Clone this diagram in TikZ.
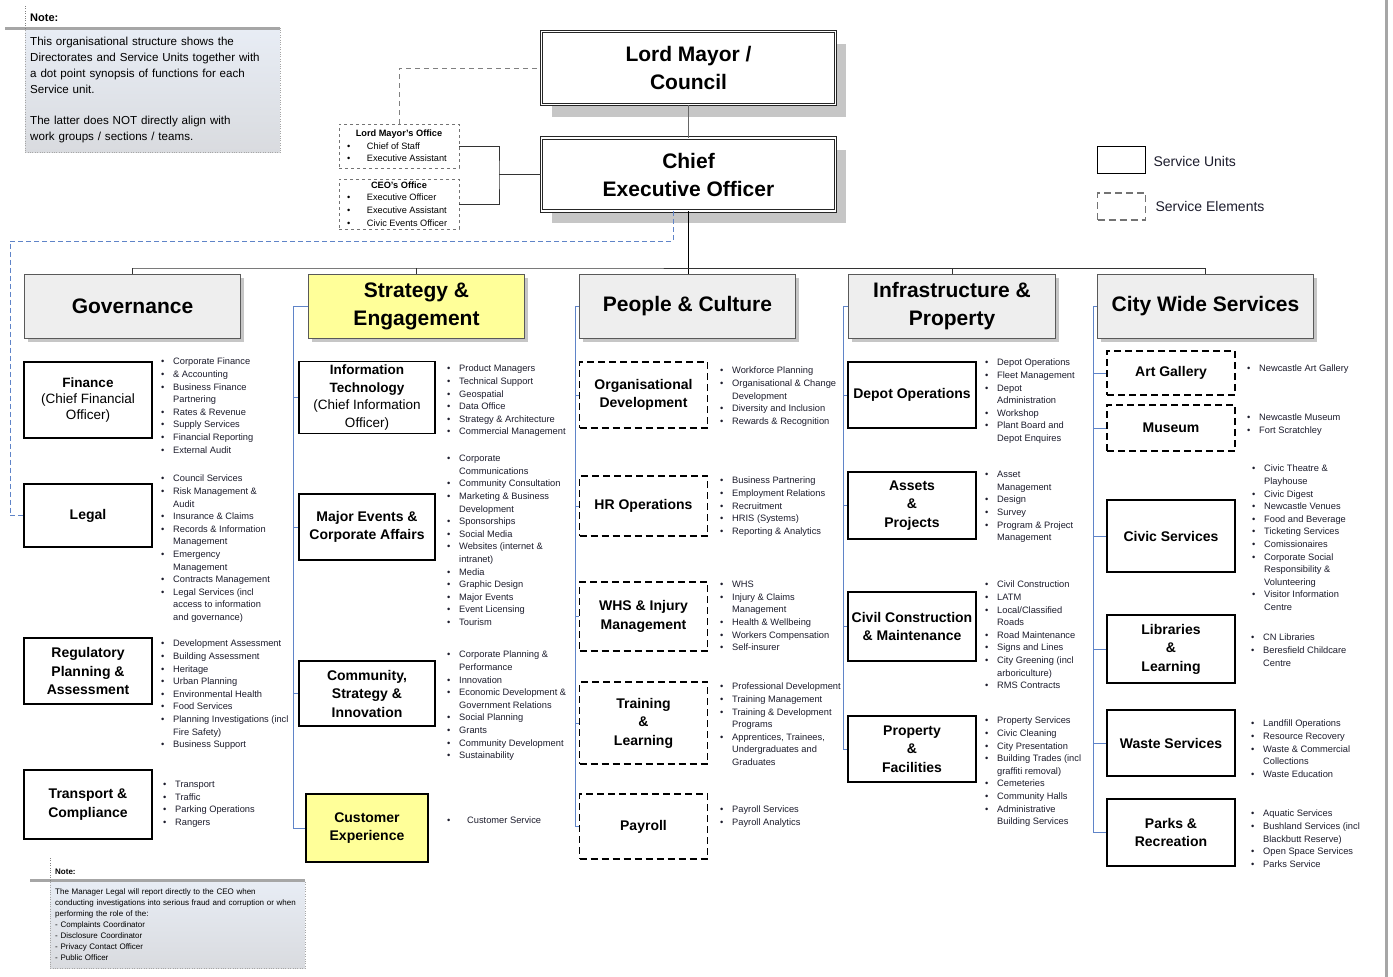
\documentclass[tikz,border=0pt]{standalone}
\usepackage{fontspec}
\setmainfont{Liberation Sans}
\usetikzlibrary{positioning,shadows}
\definecolor{linkblue}{HTML}{5F84C8}
\definecolor{headgray}{HTML}{EEEEEE}
\definecolor{shadowgray}{HTML}{C6C6C6}
\definecolor{hiyellow}{HTML}{FFFF99}
\definecolor{listink}{HTML}{1C1C2C}
\definecolor{notetop}{HTML}{E8EDF5}
\definecolor{notebot}{HTML}{D9DBDF}
\definecolor{bargray}{HTML}{A6A6A6}
\newcommand{\itm}{\makebox[12pt][l]{\textbullet}}
\newcommand{\itc}{\hspace*{12pt}}
\newcommand{\offitem}[1]{\makebox[112pt][l]{\hspace{4pt}\makebox[20pt][l]{\textbullet}#1}}
\tikzset{
  topbox/.style={draw=black!85,line width=0.8pt,double,double distance=1.6pt,fill=white,
    minimum width=294pt,minimum height=73pt,align=center,
    font=\fontsize{21}{28}\selectfont\bfseries,
    drop shadow={shadow xshift=10pt,shadow yshift=-12pt,fill=shadowgray,opacity=1}},
  headbox/.style={draw=black!65,line width=1.6pt,fill=headgray,minimum width=216pt,
    minimum height=64pt,align=center,font=\fontsize{21}{28}\selectfont\bfseries,
    drop shadow={shadow xshift=3pt,shadow yshift=-3pt,fill=shadowgray,opacity=1}},
  unitbox/.style={draw=black,line width=1.3pt,fill=white,minimum width=128pt,
    align=center,font=\fontsize{14}{18.5}\selectfont\bfseries},
  elembox/.style={unitbox,dashed,dash pattern=on 7pt off 4pt},
  officebox/.style={draw=black!55,dashed,line width=0.9pt,minimum width=120pt,align=center,
    inner sep=2pt,font=\fontsize{9.2}{12.6}\selectfont},
  itemlist/.style={anchor=north west,inner sep=0pt,align=left,text=listink,yshift=-3.5pt,
    font=\fontsize{9.3}{12.6}\selectfont},
  orgline/.style={draw=black!80,line width=1pt},
  link/.style={draw=linkblue,line width=0.8pt},
  notebox/.style={draw=black!35,dotted,top color=notetop,bottom color=notebot,
    anchor=north west,align=left}
}
\begin{document}
\begin{tikzpicture}[x=1pt,y=-1pt]
\useasboundingbox (0,0) rectangle (1393,977);

% notes and legend
\node[notebox,minimum width=255pt,minimum height=124pt,text width=245pt,inner xsep=5pt,
  inner ysep=9pt,font=\fontsize{11.6}{16}\selectfont] (topnote) at (25,28)
  {This organisational structure shows the\\Directorates and Service Units together with\\
   a dot point synopsis of functions for each\\Service unit.\\[15pt]
   The latter does NOT directly align with\\work groups / sections / teams.};
\node[anchor=west,inner sep=0pt,font=\fontsize{11}{13}\selectfont\bfseries] (topnotehead) at (30,18) {Note:};
\coordinate (topnotebar) at (5,28);
\draw[bargray,line width=3pt] (topnotebar) -- (topnote.north east);
\draw[black!50,dotted] (topnote.north west) -- ++(0,-23);

\node[notebox,minimum width=255pt,minimum height=87pt,text width=245pt,inner xsep=5pt,
  inner ysep=8pt,font=\fontsize{8}{11}\selectfont] (legalnote) at (50,880)
  {The Manager Legal will report directly to the CEO when\\
   conducting investigations into serious fraud and corruption or when\\
   performing the role of the:\\- Complaints Coordinator\\- Disclosure Coordinator\\
   - Privacy Contact Officer\\- Public Officer};
\node[anchor=west,inner sep=0pt,font=\fontsize{8}{10}\selectfont\bfseries] (legalnotehead) at (55,872) {Note:};
\coordinate (legalnotebar) at (30,880);
\draw[bargray,line width=3pt] (legalnotebar) -- (legalnote.north east);
\draw[black!50,dotted] (legalnote.north west) -- ++(0,-22);

\node[draw=black,line width=1.4pt,minimum width=48pt,minimum height=27pt] (keyunit) at (1121.5,160) {};
\node[anchor=west,font=\fontsize{14}{16}\selectfont,text=listink] (keyunittxt) at (1150,161) {Service Units};
\node[draw=black!55,dashed,dash pattern=on 7pt off 4pt,line width=1.2pt,minimum width=48pt,minimum height=27pt] (keyelem) at (1121.5,206.5) {};
\node[anchor=west,font=\fontsize{14}{16}\selectfont,text=listink] (keyelemtxt) at (1152,206) {Service Elements};
\coordinate (edgetop) at (1386,0); \coordinate (edgebot) at (1386,977);
\draw[bargray,line width=3pt] (edgetop) -- (edgebot);

% council, CEO and offices
\node[topbox] (mayor) at (688.5,68) {Lord Mayor /\\Council};
\node[topbox] (ceo) at (688.5,174.5) {Chief\\Executive Officer};
\draw[draw=black!60,line width=1pt] (mayor) -- (ceo);

\node[officebox,minimum height=44pt] (mayoroff) at (399,146)
  {\textbf{Lord Mayor's Office}\\\offitem{Chief of Staff}\\\offitem{Executive Assistant}};
\node[officebox,minimum height=50pt] (ceooff) at (399,204)
  {\textbf{CEO's Office}\\\offitem{Executive Officer}\\\offitem{Executive Assistant}\\\offitem{Civic Events Officer}};
\coordinate (offbus) at (499,174.5);
\draw[orgline] (mayoroff.east) -| (offbus) |- (ceooff.east);
\draw[orgline] (offbus) -- (ceo.west);
\draw[draw=black!50,dashed,dash pattern=on 5pt off 4pt,line width=1pt] (mayoroff.north) |- (mayor.west);

% directorates
\node[headbox] (gov) at (132.5,306.5) {Governance};
\node[headbox,fill=hiyellow] (strat) at (416.5,306.5) {Strategy \&\\Engagement};
\node[headbox] (people) at (687.5,306.5) {People \& Culture};
\node[headbox,minimum width=207pt] (infra) at (952,306.5) {Infrastructure \&\\Property};
\node[headbox] (citywide) at (1205.5,306.5) {City Wide Services};
\coordinate (busleft) at (133,268);
\draw[draw=black,line width=1.4pt] (ceo.south) -- (ceo.south |- people.north);
\draw[orgline] (gov.north) |- (busleft) -| (citywide.north);
\draw[orgline] (strat.north) -- (strat.north |- busleft);
\draw[orgline] (infra.north) -- (infra.north |- busleft);

% governance units
\node[unitbox,minimum height=76pt,font=\fontsize{13.5}{16}\selectfont\bfseries] (finance) at (88,400)
  {Finance\\\textmd{(Chief Financial}\\\textmd{Officer)}};
\node[unitbox,minimum height=63pt] (legal) at (88,515.5) {Legal};
\node[unitbox,minimum height=66pt] (regplan) at (88,671) {Regulatory\\Planning \&\\Assessment};
\node[unitbox,minimum height=69pt] (transport) at (88,804.5) {Transport \&\\Compliance};
\coordinate (crossfeed) at (10,241);
\draw[link,dashed,dash pattern=on 5pt off 3pt] ([xshift=-15pt]ceo.south) |- (crossfeed) |- (legal.west);

\node[itemlist] (finlist) at (161,354.5) {\itm Corporate Finance\\\itm \& Accounting\\\itm Business Finance\\\itc Partnering\\
  \itm Rates \& Revenue\\\itm Supply Services\\\itm Financial Reporting\\\itm External Audit};
\node[itemlist] (legallist) at (161,471.5) {\itm Council Services\\\itm Risk Management \&\\\itc Audit\\\itm Insurance \& Claims\\
  \itm Records \& Information\\\itc Management\\\itm Emergency\\\itc Management\\\itm Contracts Management\\
  \itm Legal Services (incl\\\itc access to information\\\itc and governance)};
\node[itemlist] (reglist) at (161,636.5) {\itm Development Assessment\\\itm Building Assessment\\\itm Heritage\\\itm Urban Planning\\
  \itm Environmental Health\\\itm Food Services\\\itm Planning Investigations (incl\\\itc Fire Safety)\\\itm Business Support};
\node[itemlist] (translist) at (163,777.5) {\itm Transport\\\itm Traffic\\\itm Parking Operations\\\itm Rangers};

% strategy units
\node[unitbox,minimum width=136pt,minimum height=71pt,font=\fontsize{13.5}{17.7}\selectfont\bfseries] (infotech) at (367,397.5)
  {Information\\Technology\\\textmd{(Chief Information}\\\textmd{Officer)}};
\node[unitbox,minimum width=136pt,minimum height=66pt] (events) at (367,527) {Major Events \&\\Corporate Affairs};
\node[unitbox,minimum width=136pt,minimum height=65pt] (community) at (367,693.5) {Community,\\Strategy \&\\Innovation};
\node[unitbox,minimum width=122pt,minimum height=68pt,fill=hiyellow] (custexp) at (367,828) {Customer\\Experience};
\coordinate (stratrail) at (293,0);
\draw[link] (strat.west) -| (stratrail |- custexp.west) -- (custexp.west);
\draw[link] (stratrail |- infotech.west) -- (infotech.west);
\draw[link] (stratrail |- events.west) -- (events.west);
\draw[link] (stratrail |- community.west) -- (community.west);

\node[itemlist] (itlist) at (447,361.5) {\itm Product Managers\\\itm Technical Support\\\itm Geospatial\\\itm Data Office\\
  \itm Strategy \& Architecture\\\itm Commercial Management};
\node[itemlist] (eventslist) at (447,451.5) {\itm Corporate\\\itc Communications\\\itm Community Consultation\\
  \itm Marketing \& Business\\\itc Development\\\itm Sponsorships\\\itm Social Media\\\itm Websites (internet \&\\\itc intranet)\\
  \itm Media\\\itm Graphic Design\\\itm Major Events\\\itm Event Licensing\\\itm Tourism};
\node[itemlist] (communitylist) at (447,647.5) {\itm Corporate Planning \&\\\itc Performance\\\itm Innovation\\
  \itm Economic Development \&\\\itc Government Relations\\\itm Social Planning\\\itm Grants\\\itm Community Development\\\itm Sustainability};
\node[itemlist] (custlist) at (447,813.5) {\makebox[20pt][l]{\textbullet}Customer Service};

% people and culture units
\node[elembox,minimum height=66pt] (orgdev) at (643.5,395) {Organisational\\Development};
\node[elembox,minimum height=60pt] (hrops) at (643.5,506) {HR Operations};
\node[elembox,minimum height=69pt] (whs) at (643.5,616.5) {WHS \& Injury\\Management};
\node[elembox,minimum height=82pt] (training) at (643.5,723) {Training\\\&\\Learning};
\node[elembox,minimum height=65pt] (payroll) at (643.5,826.5) {Payroll};
\coordinate (peoplerail) at (575,0);
\draw[link] (people.west) -| (peoplerail |- payroll.west) -- (payroll.west);
\draw[link] (peoplerail |- orgdev.west) -- (orgdev.west);
\draw[link] (peoplerail |- hrops.west) -- (hrops.west);
\draw[link] (peoplerail |- whs.west) -- (whs.west);
\draw[link] (peoplerail |- training.west) -- (training.west);

\node[itemlist] (orgdevlist) at (720,363.5) {\itm Workforce Planning\\\itm Organisational \& Change\\\itc Development\\
  \itm Diversity and Inclusion\\\itm Rewards \& Recognition};
\node[itemlist] (hrlist) at (720,473.5) {\itm Business Partnering\\\itm Employment Relations\\\itm Recruitment\\
  \itm HRIS (Systems)\\\itm Reporting \& Analytics};
\node[itemlist] (whslist) at (720,577.5) {\itm WHS\\\itm Injury \& Claims\\\itc Management\\\itm Health \& Wellbeing\\
  \itm Workers Compensation\\\itm Self-insurer};
\node[itemlist] (traininglist) at (720,679.5) {\itm Professional Development\\\itm Training Management\\
  \itm Training \& Development\\\itc Programs\\\itm Apprentices, Trainees,\\\itc Undergraduates and\\\itc Graduates};
\node[itemlist] (payrolllist) at (720,802.5) {\itm Payroll Services\\\itm Payroll Analytics};

% infrastructure units
\node[unitbox,minimum height=66pt] (depot) at (912,395) {Depot Operations};
\node[unitbox,minimum height=67pt] (assets) at (912,505.5) {Assets\\\&\\Projects};
\node[unitbox,minimum height=69pt] (civil) at (912,626.5) {Civil Construction\\\& Maintenance};
\node[unitbox,minimum height=66pt] (property) at (912,749) {Property\\\&\\Facilities};
\coordinate (infrarail) at (843,0);
\draw[link] (infra.west) -| (infrarail |- property.west) -- (property.west);
\draw[link] (infrarail |- depot.west) -- (depot.west);
\draw[link] (infrarail |- assets.west) -- (assets.west);
\draw[link] (infrarail |- civil.west) -- (civil.west);

\node[itemlist] (depotlist) at (985,355.5) {\itm Depot Operations\\\itm Fleet Management\\\itm Depot\\\itc Administration\\
  \itm Workshop\\\itm Plant Board and\\\itc Depot Enquires};
\node[itemlist] (assetslist) at (985,467.5) {\itm Asset\\\itc Management\\\itm Design\\\itm Survey\\
  \itm Program \& Project\\\itc Management};
\node[itemlist] (civillist) at (985,577.5) {\itm Civil Construction\\\itm LATM\\\itm Local/Classified\\\itc Roads\\
  \itm Road Maintenance\\\itm Signs and Lines\\\itm City Greening (incl\\\itc arboriculture)\\\itm RMS Contracts};
\node[itemlist] (propertylist) at (985,713.5) {\itm Property Services\\\itm Civic Cleaning\\\itm City Presentation\\
  \itm Building Trades (incl\\\itc graffiti removal)\\\itm Cemeteries\\\itm Community Halls\\\itm Administrative\\\itc Building Services};

% city wide units
\node[elembox,minimum height=44pt] (gallery) at (1171,373) {Art Gallery};
\node[elembox,minimum height=46pt] (museum) at (1171,428) {Museum};
\node[unitbox,minimum height=72pt] (civic) at (1171,536) {Civic Services};
\node[unitbox,minimum height=68pt] (libraries) at (1171,649) {Libraries\\\&\\Learning};
\node[unitbox,minimum height=66pt] (waste) at (1171,743) {Waste Services};
\node[unitbox,minimum height=67pt] (parks) at (1171,832.5) {Parks \&\\Recreation};
\coordinate (cityrail) at (1093,0);
\draw[link] (citywide.west) -| (cityrail |- parks.west) -- (parks.west);
\draw[link] (cityrail |- gallery.west) -- (gallery.west);
\draw[link] (cityrail |- museum.west) -- (museum.west);
\draw[link] (cityrail |- civic.west) -- (civic.west);
\draw[link] (cityrail |- libraries.west) -- (libraries.west);
\draw[link] (cityrail |- waste.west) -- (waste.west);

\node[itemlist] (gallerylist) at (1247,361.5) {\itm Newcastle Art Gallery};
\node[itemlist] (museumlist) at (1247,410.5) {\itm Newcastle Museum\\\itm Fort Scratchley};
\node[itemlist] (civiclist) at (1252,461.5) {\itm Civic Theatre \&\\\itc Playhouse\\\itm Civic Digest\\\itm Newcastle Venues\\
  \itm Food and Beverage\\\itm Ticketing Services\\\itm Comissionaires\\\itm Corporate Social\\\itc Responsibility \&\\
  \itc Volunteering\\\itm Visitor Information\\\itc Centre};
\node[itemlist] (librarieslist) at (1251,630.5) {\itm CN Libraries\\\itm Beresfield Childcare\\\itc Centre};
\node[itemlist] (wastelist) at (1251,716.5) {\itm Landfill Operations\\\itm Resource Recovery\\\itm Waste \& Commercial\\
  \itc Collections\\\itm Waste Education};
\node[itemlist] (parkslist) at (1251,806.5) {\itm Aquatic Services\\\itm Bushland Services (incl\\\itc Blackbutt Reserve)\\
  \itm Open Space Services\\\itm Parks Service};
\end{tikzpicture}
\end{document}
